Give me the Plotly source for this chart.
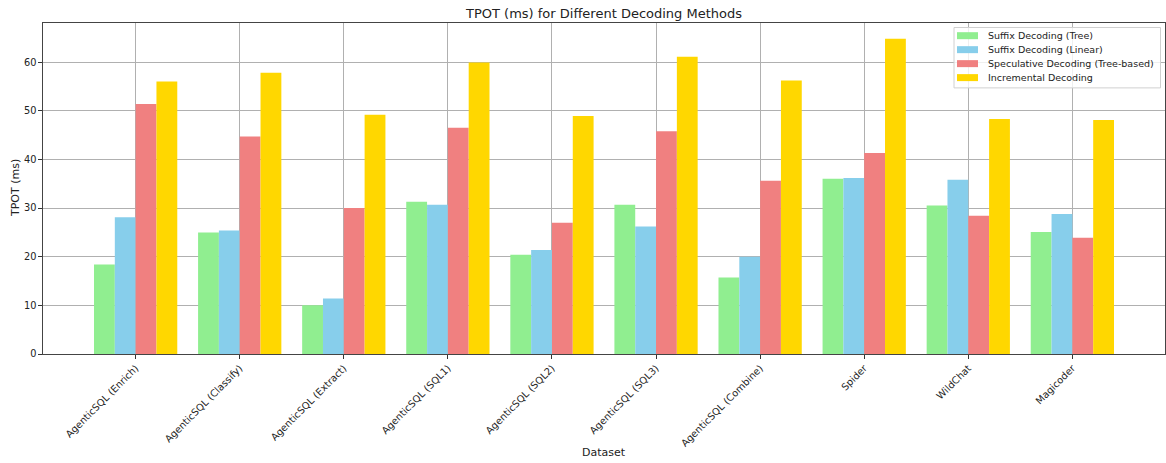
import plotly.graph_objects as go

categories = ["AgenticSQL (Enrich)", "AgenticSQL (Classify)", "AgenticSQL (Extract)",
              "AgenticSQL (SQL1)", "AgenticSQL (SQL2)", "AgenticSQL (SQL3)",
              "AgenticSQL (Combine)", "Spider", "WildChat", "Magicoder"]
suffix_tree = [18.4, 25.0, 10.0, 31.3, 20.4, 30.7, 15.7, 36.0, 30.5, 25.1]
suffix_linear = [28.1, 25.4, 11.4, 30.7, 21.4, 26.2, 20.0, 36.2, 35.8, 28.8]
speculative = [51.4, 44.7, 30.0, 46.5, 27.0, 45.8, 35.6, 41.3, 28.4, 23.9]
incremental = [56.0, 57.8, 49.2, 59.9, 48.9, 61.1, 56.2, 64.8, 48.3, 48.1]
series_names = ["Suffix Decoding (Tree)", "Suffix Decoding (Linear)",
                "Speculative Decoding (Tree-based)", "Incremental Decoding"]
colors = ["#90EE90", "#87CEEB", "#F08080", "#FFD700"]

FONT = "DejaVu Sans"
W, H = 1166, 463
L, R, T, B = 43, 1, 23, 108.5
PW, PH = W - L - R, H - T - B


def px_x(px):
    return (px - L) / PW


def px_y(py):
    return (H - B - py) / PH


fig = go.Figure()
for name, vals, col in zip(series_names, [suffix_tree, suffix_linear, speculative, incremental], colors):
    fig.add_trace(go.Bar(name=name, x=list(range(len(categories))), y=vals,
                         marker=dict(color=col, line=dict(width=0)), showlegend=False))

# legend drawn as shapes + text (matplotlib-style box)
shapes = [dict(type="rect", xref="paper", yref="paper",
               x0=px_x(954), x1=px_x(1160.5), y0=px_y(88), y1=px_y(27.5),
               fillcolor="rgba(255,255,255,0.8)", line=dict(color="#d0d0d0", width=1), layer="above")]
annotations = []
for i, (name, col) in enumerate(zip(series_names, colors)):
    cy = 35.7 + 14 * i
    shapes.append(dict(type="rect", xref="paper", yref="paper",
                       x0=px_x(957), x1=px_x(978), y0=px_y(cy + 3.5), y1=px_y(cy - 3.5),
                       fillcolor=col, line=dict(width=0), layer="above"))
    annotations.append(dict(text=name, xref="paper", yref="paper", x=px_x(986), y=px_y(cy),
                            xanchor="left", yanchor="middle", showarrow=False,
                            font=dict(size=9.5, color="#222")))

annotations += [
    dict(text="Dataset", xref="paper", yref="paper", x=0.5, y=px_y(453),
         xanchor="center", yanchor="middle", showarrow=False, font=dict(size=11)),
    dict(text="TPOT (ms)", xref="paper", yref="paper", x=px_x(15.5), y=0.5,
         xanchor="center", yanchor="middle", textangle=-90, showarrow=False,
         font=dict(size=11)),
]

fig.update_layout(
    width=W, height=H,
    margin=dict(l=L, r=R, t=T, b=B, autoexpand=False),
    paper_bgcolor="white", plot_bgcolor="white",
    font=dict(family=FONT, size=10, color="#222"),
    title=dict(text="TPOT (ms) for Different Decoding Methods", x=(L + PW / 2) / W,
               xanchor="center", y=1 - 13.5 / H, yanchor="middle",
               font=dict(size=13, color="#222")),
    barmode="group", bargap=0.2, bargroupgap=0,
    showlegend=False,
    xaxis=dict(range=[-0.89, 9.89], tickmode="array", tickvals=list(range(len(categories))),
               ticktext=categories, tickangle=-45, showgrid=True, gridcolor="#b0b0b0", gridwidth=1,
               ticks="outside", ticklen=3.5, tickcolor="#333", showline=True, linecolor="#444",
               linewidth=1.3, mirror=True, zeroline=False, tickfont=dict(size=9.8),
               automargin=False),
    yaxis=dict(range=[0, 68.04], tickvals=[0, 10, 20, 30, 40, 50, 60], showgrid=True,
               gridcolor="#b0b0b0", gridwidth=1, ticks="outside", ticklen=3.5, tickcolor="#333",
               showline=True, linecolor="#444", linewidth=1.3, mirror=True, zeroline=False,
               tickfont=dict(size=9.8), automargin=False),
    shapes=shapes,
    annotations=annotations,
)
fig.write_html("out.html", config={"displayModeBar": False},
               post_script="document.body.style.margin='0';")
